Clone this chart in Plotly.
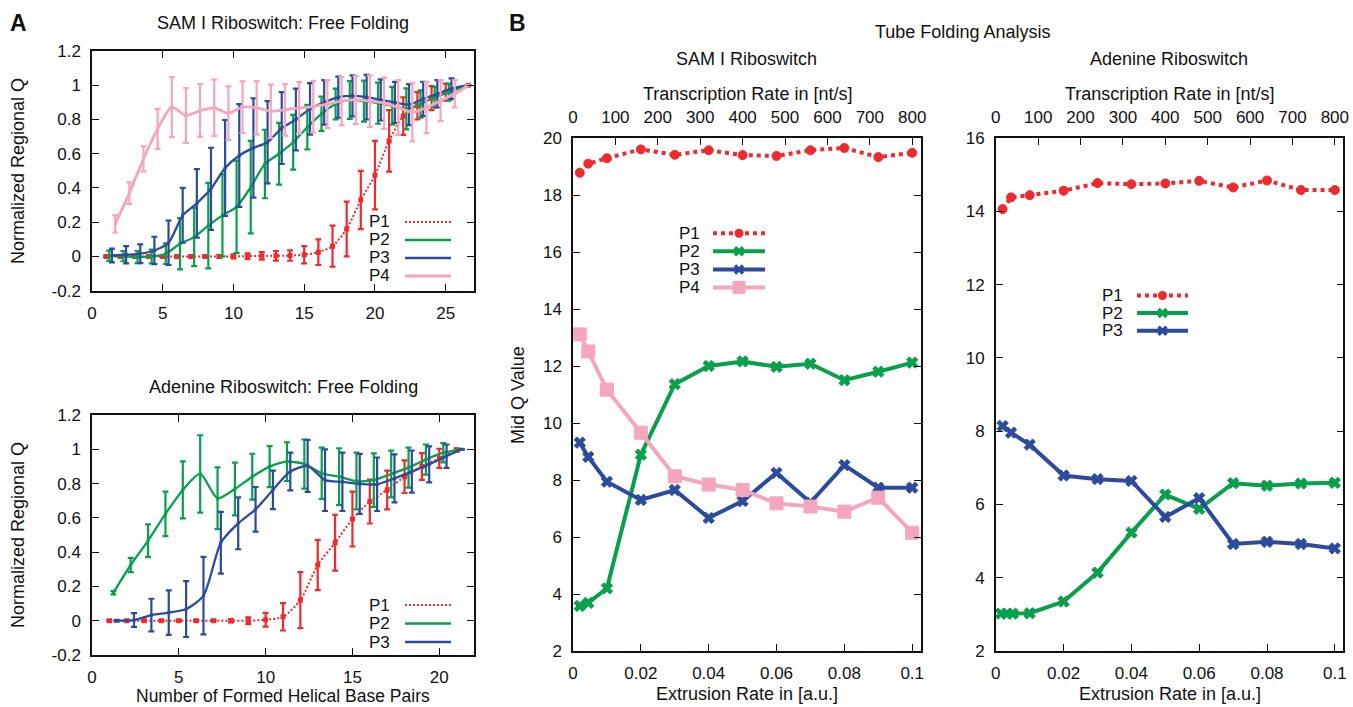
import plotly.graph_objects as go

W, H = 1353, 707
RED = "#ee2a2e"
GREEN = "#08a04b"
BLUE = "#2d4b9d"
PINK = "#f5a6bc"
FONT = "Liberation Sans, Arial, Helvetica, sans-serif"
INK = "#111111"

# ---------------- Panel A (top): SAM I Riboswitch, free folding ----------------
samA_p1_x = [1, 2, 3, 4, 5, 6, 7, 8, 9, 10, 11, 12, 13, 14, 15, 16, 17, 18, 19, 20, 21, 22, 23, 24, 25, 26.6]
samA_p1_y = [0, 0, 0, 0, 0, 0, 0, 0, 0, 0, 0.002, 0.003, 0.004, 0.005, 0.01, 0.025, 0.06, 0.16, 0.33, 0.475,
             0.675, 0.82, 0.88, 0.925, 0.96, 1.0]
samA_p1_e = [0.004, 0.004, 0.004, 0.004, 0.004, 0.004, 0.004, 0.006, 0.008, 0.012, 0.016, 0.022, 0.028, 0.03,
             0.05, 0.075, 0.12, 0.16, 0.17, 0.2, 0.18, 0.11, 0.08, 0.07, 0.05, 0.0]

samA_p2_x = [1.22, 2.22, 3.22, 4.22, 5.22, 6.22, 7.22, 8.22, 9.22, 10.22, 11.22, 12.22, 13.22, 14.22, 15.22,
             16.22, 17.22, 18.22, 19.22, 20.22, 21.22, 22.22, 23.22, 24.22, 25.22, 26.6]
samA_p2_y = [0.004, 0.002, -0.004, 0.0, 0.016, 0.074, 0.113, 0.18, 0.24, 0.29, 0.405, 0.54, 0.6, 0.667, 0.755,
             0.833, 0.89, 0.914, 0.907, 0.895, 0.88, 0.862, 0.89, 0.93, 0.96, 1.0]
samA_p2_e = [0.03, 0.03, 0.035, 0.04, 0.06, 0.15, 0.17, 0.25, 0.24, 0.27, 0.27, 0.2, 0.18, 0.16, 0.13, 0.1,
             0.09, 0.11, 0.12, 0.12, 0.11, 0.12, 0.08, 0.06, 0.05, 0.0]

samA_p3_x = [1.41, 2.41, 3.41, 4.41, 5.41, 6.41, 7.41, 8.41, 9.41, 10.41, 11.41, 12.41, 13.41, 14.41, 15.41,
             16.41, 17.41, 18.41, 19.41, 20.41, 21.41, 22.41, 23.41, 24.41, 25.41, 26.6]
samA_p3_y = [0.006, 0.01, 0.016, 0.035, 0.08, 0.24, 0.31, 0.395, 0.517, 0.59, 0.634, 0.667, 0.75, 0.8, 0.862,
             0.9, 0.93, 0.938, 0.93, 0.914, 0.9, 0.887, 0.92, 0.95, 0.98, 1.0]
samA_p3_e = [0.04, 0.05, 0.055, 0.08, 0.13, 0.16, 0.2, 0.24, 0.28, 0.3, 0.29, 0.24, 0.21, 0.18, 0.15, 0.13,
             0.12, 0.12, 0.13, 0.12, 0.12, 0.12, 0.1, 0.08, 0.06, 0.0]

samA_p4_x = [1.64, 2.64, 3.64, 4.64, 5.64, 6.64, 7.64, 8.64, 9.64, 10.64, 11.64, 12.64, 13.64, 14.64, 15.64,
             16.64, 17.64, 18.64, 19.64, 20.64, 21.64, 22.64, 23.64, 24.64, 25.64, 26.6]
samA_p4_y = [0.19, 0.37, 0.57, 0.745, 0.872, 0.823, 0.852, 0.868, 0.837, 0.872, 0.868, 0.848, 0.856, 0.868,
             0.875, 0.89, 0.907, 0.914, 0.907, 0.895, 0.87, 0.842, 0.87, 0.91, 0.95, 1.0]
samA_p4_e = [0.05, 0.063, 0.073, 0.117, 0.175, 0.16, 0.154, 0.165, 0.156, 0.151, 0.156, 0.156, 0.15, 0.15,
             0.15, 0.14, 0.14, 0.14, 0.15, 0.15, 0.16, 0.17, 0.15, 0.12, 0.08, 0.0]

# ---------------- Panel A (bottom): Adenine Riboswitch, free folding ----------------
adeA_p1_x = [1, 2, 3, 4, 5, 6, 7, 8, 9, 10, 11, 12, 13, 14, 15, 16, 17, 18, 19, 20, 21]
adeA_p1_y = [0, 0, 0, 0, 0, 0, 0, 0, 0, 0.006, 0.023, 0.12, 0.325, 0.455, 0.593, 0.695, 0.763, 0.84, 0.9,
             0.947, 0.996]
adeA_p1_e = [0.003, 0.003, 0.003, 0.003, 0.003, 0.003, 0.003, 0.01, 0.02, 0.04, 0.08, 0.163, 0.146, 0.163,
             0.16, 0.128, 0.113, 0.095, 0.078, 0.056, 0.01]

adeA_p2_x = [1.23, 2.23, 3.23, 4.23, 5.23, 6.23, 7.23, 8.23, 9.23, 10.23, 11.23, 12.23, 13.23, 14.23, 15.23,
             16.23, 17.23, 18.23, 19.23, 20.23, 21.3]
adeA_p2_y = [0.163, 0.325, 0.467, 0.623, 0.763, 0.856, 0.714, 0.768, 0.84, 0.899, 0.928, 0.914, 0.86, 0.84,
             0.815, 0.82, 0.856, 0.893, 0.94, 0.98, 1.0]
adeA_p2_e = [0.01, 0.042, 0.095, 0.13, 0.166, 0.226, 0.18, 0.154, 0.134, 0.12, 0.113, 0.143, 0.15, 0.166,
             0.165, 0.156, 0.136, 0.117, 0.088, 0.056, 0.0]

adeA_p3_x = [1.42, 2.42, 3.42, 4.42, 5.42, 6.42, 7.42, 8.42, 9.42, 10.42, 11.42, 12.42, 13.42, 14.42, 15.42,
             16.42, 17.42, 18.42, 19.42, 20.42, 21.3]
adeA_p3_y = [0.0, 0.004, 0.033, 0.047, 0.068, 0.146, 0.455, 0.568, 0.65, 0.763, 0.87, 0.903, 0.82, 0.81,
             0.798, 0.796, 0.83, 0.87, 0.912, 0.96, 1.0]
adeA_p3_e = [0.005, 0.04, 0.095, 0.13, 0.163, 0.226, 0.18, 0.151, 0.13, 0.112, 0.11, 0.152, 0.18, 0.17,
             0.175, 0.156, 0.14, 0.123, 0.105, 0.068, 0.0]

# ---------------- Panel B: tube folding analysis ----------------
ext_rate = [0.002, 0.0045, 0.01, 0.02, 0.03, 0.04, 0.05, 0.06, 0.07, 0.08, 0.09, 0.1]
ext_rate_ade_p2 = [0.0015, 0.0033, 0.005, 0.01, 0.02, 0.03, 0.04, 0.05, 0.06, 0.07, 0.08, 0.09, 0.1]

samB_p1 = [18.78, 19.10, 19.29, 19.60, 19.41, 19.57, 19.40, 19.37, 19.57, 19.65, 19.33, 19.48]
samB_p2 = [3.58, 3.69, 4.20, 8.89, 11.36, 12.00, 12.16, 11.97, 12.08, 11.50, 11.80, 12.12]
samB_p3 = [9.31, 8.81, 7.94, 7.30, 7.65, 6.67, 7.26, 8.25, 7.21, 8.52, 7.73, 7.73]
samB_p4 = [13.11, 12.51, 11.17, 9.66, 8.13, 7.84, 7.65, 7.18, 7.07, 6.89, 7.38, 6.15]

adeB_p1 = [14.06, 14.38, 14.44, 14.56, 14.77, 14.74, 14.76, 14.83, 14.65, 14.84, 14.58, 14.58]
adeB_p2 = [3.02, 3.02, 3.02, 3.03, 3.35, 4.14, 5.23, 6.27, 5.88, 6.58, 6.51, 6.57, 6.59]
adeB_p3 = [8.14, 7.96, 7.63, 6.79, 6.69, 6.64, 5.66, 6.17, 4.92, 4.98, 4.92, 4.80]

a_yticks = [-0.2, 0, 0.2, 0.4, 0.6, 0.8, 1, 1.2]
a_yticktext = ["-0.2", "0", "0.2", "0.4", "0.6", "0.8", "1", "1.2"]
b_xticks = [0, 0.02, 0.04, 0.06, 0.08, 0.1]
b_xticktext = ["0", "0.02", "0.04", "0.06", "0.08", "0.1"]
nt_ticks = [0, 100, 200, 300, 400, 500, 600, 700, 800]
NT_PER_UNIT = 8000  # 0.1 a.u. <-> 800 nt/s


def px(x):
    return x / W


def py(y):
    return 1 - y / H


fig = go.Figure()


def add_a(x, y, e, color, xa, ya, width=2.3, dash="solid", msize=3, symbol="square"):
    fig.add_trace(go.Scatter(
        x=x, y=y, xaxis=xa, yaxis=ya, mode="lines+markers", showlegend=False,
        line=dict(color=color, width=width, shape="spline", smoothing=0.7, dash=dash),
        marker=dict(color=color, size=msize, symbol=symbol),
        error_y=dict(type="data", array=e, color=color, thickness=2.2, width=3),
    ))


add_a(samA_p1_x, samA_p1_y, samA_p1_e, RED, "x", "y", width=2, dash="2px,2px", msize=5)
add_a(samA_p2_x, samA_p2_y, samA_p2_e, GREEN, "x", "y")
add_a(samA_p3_x, samA_p3_y, samA_p3_e, BLUE, "x", "y")
add_a(samA_p4_x, samA_p4_y, samA_p4_e, PINK, "x", "y", width=2.8)

add_a(adeA_p1_x, adeA_p1_y, adeA_p1_e, RED, "x2", "y2", width=2, dash="2px,2px", msize=5)
add_a(adeA_p2_x, adeA_p2_y, adeA_p2_e, GREEN, "x2", "y2")
add_a(adeA_p3_x, adeA_p3_y, adeA_p3_e, BLUE, "x2", "y2")


def add_b(x, y, color, xa, ya, symbol, msize, dash="solid"):
    fig.add_trace(go.Scatter(
        x=x, y=y, xaxis=xa, yaxis=ya, mode="lines+markers", showlegend=False,
        line=dict(color=color, width=4, dash=dash),
        marker=dict(color=color, size=msize, symbol=symbol, line=dict(color=color, width=1)),
    ))


add_b(ext_rate, samB_p1, RED, "x3", "y3", "circle", 9, dash="dot")
add_b(ext_rate, samB_p2, GREEN, "x3", "y3", "x", 10)
add_b(ext_rate, samB_p3, BLUE, "x3", "y3", "x", 10)
add_b(ext_rate, samB_p4, PINK, "x3", "y3", "square", 13)

add_b(ext_rate, adeB_p1, RED, "x5", "y5", "circle", 9, dash="dot")
add_b(ext_rate_ade_p2, adeB_p2, GREEN, "x5", "y5", "x", 10)
add_b(ext_rate, adeB_p3, BLUE, "x5", "y5", "x", 10)

# empty traces so the secondary (top) axes are drawn
fig.add_trace(go.Scatter(x=[], y=[], xaxis="x4", yaxis="y3", showlegend=False))
fig.add_trace(go.Scatter(x=[], y=[], xaxis="x6", yaxis="y5", showlegend=False))

tickfont = dict(family=FONT, size=17, color=INK)
common = dict(showline=True, linecolor=INK, linewidth=1.5, ticks="inside", ticklen=7, tickwidth=1.3,
              tickcolor=INK, showgrid=False, zeroline=False, tickfont=tickfont, ticklabelstandoff=6,
              automargin=False)

A_dom_x = [px(92), px(474)]
B1_dom_x = [px(573), px(920.7)]
B2_dom_x = [px(995.8), px(1343.3)]
B_dom_y = [py(651), py(138)]
b_range = [0, 0.1025]

fig.update_layout(
    width=W, height=H, margin=dict(l=0, r=0, t=0, b=0, autoexpand=False),
    paper_bgcolor="white", plot_bgcolor="white",
    font=dict(family=FONT, color=INK),
    xaxis=dict(domain=A_dom_x, anchor="y", range=[0, 27], tickvals=[0, 5, 10, 15, 20, 25], mirror="ticks", **common),
    yaxis=dict(domain=[py(290.7), py(51)], anchor="x", range=[-0.2, 1.2], tickvals=a_yticks,
               ticktext=a_yticktext, mirror="ticks", **common),
    xaxis2=dict(domain=A_dom_x, anchor="y2", range=[0, 22], tickvals=[0, 5, 10, 15, 20], mirror="ticks", **common),
    yaxis2=dict(domain=[py(655), py(415)], anchor="x2", range=[-0.2, 1.2], tickvals=a_yticks,
                ticktext=a_yticktext, mirror="ticks", **common),
    xaxis3=dict(domain=B1_dom_x, anchor="y3", range=b_range, tickvals=b_xticks, ticktext=b_xticktext,
                mirror=False, **common),
    xaxis4=dict(overlaying="x3", side="top", anchor="y3", range=[b_range[0] * NT_PER_UNIT, b_range[1] * NT_PER_UNIT],
                tickvals=nt_ticks, mirror=False, **common),
    yaxis3=dict(domain=B_dom_y, anchor="x3", range=[2, 20], tickvals=list(range(2, 21, 2)), mirror="ticks", **common),
    xaxis5=dict(domain=B2_dom_x, anchor="y5", range=b_range, tickvals=b_xticks, ticktext=b_xticktext,
                mirror=False, **common),
    xaxis6=dict(overlaying="x5", side="top", anchor="y5", range=[b_range[0] * NT_PER_UNIT, b_range[1] * NT_PER_UNIT],
                tickvals=nt_ticks, mirror=False, **common),
    yaxis5=dict(domain=B_dom_y, anchor="x5", range=[2, 16], tickvals=list(range(2, 17, 2)), mirror="ticks", **common),
)

annotations = []


def text(x, y, s, size=18, angle=0, bold=False, xanchor="center"):
    annotations.append(dict(x=px(x), y=py(y), xref="paper", yref="paper", text=f"<b>{s}</b>" if bold else s,
                            showarrow=False, textangle=angle, xanchor=xanchor, yanchor="middle",
                            font=dict(family=FONT, size=size, color=INK)))


text(18, 23, "A", size=23, bold=True)
text(517, 23, "B", size=23, bold=True)
text(283, 23, "SAM I Riboswitch: Free Folding")
text(283, 387, "Adenine Riboswitch: Free Folding")
text(18, 171, "Normalized Regional Q", angle=-90)
text(18, 535, "Normalized Regional Q", angle=-90)
text(283, 696, "Number of Formed Helical Base Pairs", size=17.5)
text(962, 32, "Tube Folding Analysis")
text(746, 59, "SAM I Riboswitch")
text(1169, 59, "Adenine Riboswitch")
text(747, 94, "Transcription Rate in [nt/s]")
text(1169.5, 94, "Transcription Rate in [nt/s]")
text(747, 694, "Extrusion Rate in [a.u.]")
text(1169.5, 694, "Extrusion Rate in [a.u.]")
text(518, 395, "Mid Q Value", angle=-90)

shapes = []


def legend_entry(tx, ty, label, color, x0, x1, width, dash="solid", marker=None, msize=0):
    text(tx, ty, label, size=17, xanchor="right")
    shapes.append(dict(type="line", xref="paper", yref="paper", x0=px(x0), x1=px(x1), y0=py(ty), y1=py(ty),
                       line=dict(color=color, width=width, dash=dash)))
    if marker is not None:
        cx = (x0 + x1) / 2
        r = msize / 2
        if marker == "circle":
            shapes.append(dict(type="circle", xref="paper", yref="paper", xsizemode="pixel", ysizemode="pixel",
                               xanchor=px(cx), yanchor=py(ty), x0=-r, x1=r, y0=-r, y1=r,
                               fillcolor=color, line=dict(color=color, width=0)))
        elif marker == "square":
            shapes.append(dict(type="rect", xref="paper", yref="paper", xsizemode="pixel", ysizemode="pixel",
                               xanchor=px(cx), yanchor=py(ty), x0=-r, x1=r, y0=-r, y1=r,
                               fillcolor=color, line=dict(color=color, width=0)))
        elif marker == "x":
            shapes.append(dict(type="path", xref="paper", yref="paper", xsizemode="pixel", ysizemode="pixel",
                               xanchor=px(cx), yanchor=py(ty),
                               path=f"M{-r},{-r} L{r},{r} M{-r},{r} L{r},{-r}",
                               line=dict(color=color, width=3.5)))


# legend, panel A top
legend_entry(392, 222, "P1", RED, 405, 451, 2, dash="2px,2px")
legend_entry(392, 240, "P2", GREEN, 405, 451, 2.5)
legend_entry(392, 258, "P3", BLUE, 405, 451, 2.5)
legend_entry(392, 276, "P4", PINK, 405, 451, 2.8)
# legend, panel A bottom
legend_entry(392, 605, "P1", RED, 405, 451, 2, dash="2px,2px")
legend_entry(392, 623.5, "P2", GREEN, 405, 451, 2.5)
legend_entry(392, 642, "P3", BLUE, 405, 451, 2.5)
# legend, panel B left
legend_entry(702, 233.3, "P1", RED, 713, 765, 4, dash="dot", marker="circle", msize=9)
legend_entry(702, 251.3, "P2", GREEN, 713, 765, 4, marker="x", msize=8)
legend_entry(702, 269.4, "P3", BLUE, 713, 765, 4, marker="x", msize=8)
legend_entry(702, 287.4, "P4", PINK, 713, 765, 4, marker="square", msize=13)
# legend, panel B right
legend_entry(1125, 295.5, "P1", RED, 1137, 1188, 4, dash="dot", marker="circle", msize=9)
legend_entry(1125, 313, "P2", GREEN, 1137, 1188, 4, marker="x", msize=8)
legend_entry(1125, 330.7, "P3", BLUE, 1137, 1188, 4, marker="x", msize=8)

fig.update_layout(annotations=annotations, shapes=shapes)

fig.write_html("out.html", config={"displayModeBar": False},
               post_script="document.body.style.margin='0';document.body.style.overflow='hidden';")
